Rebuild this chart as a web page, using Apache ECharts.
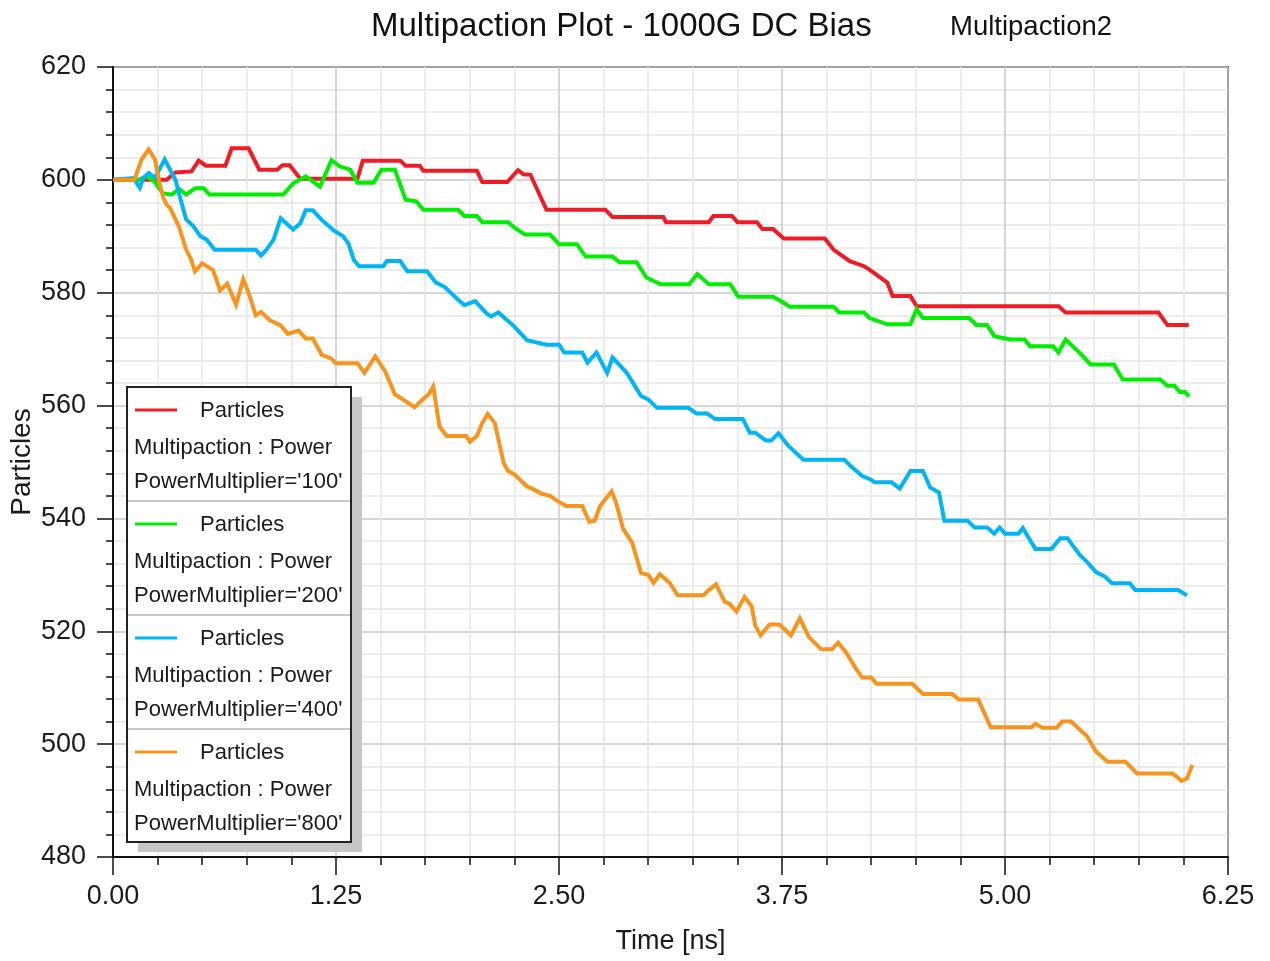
<!DOCTYPE html>
<html>
<head>
<meta charset="utf-8">
<title>Multipaction Plot - 1000G DC Bias</title>
<script src="https://cdn.jsdelivr.net/npm/echarts@6/dist/echarts.min.js"></script>
<style>
  html, body { margin: 0; padding: 0; background: #fff; }
  #chart { width: 1270px; height: 961px; }
</style>
</head>
<body>
<div id="chart"></div>
<script>
// Particle counts vs time [ns] for each power multiplier, as [time, particles]
const p100 = [[0,600],[0.30,600],[0.35,601.3],[0.44,601.5],[0.48,603.4],[0.52,602.5],[0.63,602.5],[0.665,605.6],[0.76,605.6],[0.82,601.8],[0.92,601.8],[0.95,602.6],[0.99,602.6],[1.05,600.2],[1.37,600.2],[1.40,603.4],[1.61,603.4],[1.64,602.5],[1.72,602.5],[1.74,601.6],[2.04,601.6],[2.07,599.6],[2.21,599.6],[2.27,601.7],[2.30,601.0],[2.34,600.9],[2.43,594.7],[2.76,594.7],[2.80,593.4],[3.085,593.4],[3.10,592.5],[3.34,592.5],[3.365,593.6],[3.47,593.6],[3.50,592.5],[3.61,592.5],[3.64,591.3],[3.70,591.3],[3.76,589.6],[3.99,589.6],[4.04,587.6],[4.13,585.6],[4.21,584.7],[4.24,584.1],[4.34,581.8],[4.37,579.4],[4.47,579.4],[4.505,577.6],[5.30,577.6],[5.34,576.5],[5.86,576.5],[5.91,574.3],[6.03,574.3]];
const p200 = [[0,600],[0.14,600],[0.19,600.6],[0.23,599.8],[0.28,597.6],[0.33,597.4],[0.37,598.4],[0.41,597.4],[0.46,598.5],[0.51,598.5],[0.54,597.4],[0.955,597.4],[1.01,599.4],[1.08,600.6],[1.16,598.8],[1.225,603.5],[1.27,602.4],[1.33,601.8],[1.37,599.5],[1.46,599.5],[1.505,601.8],[1.58,601.8],[1.64,596.5],[1.70,596.2],[1.74,594.7],[1.935,594.7],[1.97,593.6],[2.04,593.6],[2.07,592.5],[2.215,592.5],[2.26,591.3],[2.31,590.3],[2.45,590.3],[2.50,588.6],[2.60,588.6],[2.65,586.4],[2.80,586.4],[2.84,585.4],[2.935,585.4],[2.99,582.7],[3.07,581.5],[3.23,581.5],[3.275,583.3],[3.34,581.5],[3.46,581.5],[3.505,579.3],[3.70,579.3],[3.75,578.4],[3.795,577.5],[4.04,577.5],[4.07,576.5],[4.21,576.5],[4.24,575.5],[4.34,574.4],[4.47,574.4],[4.505,577.1],[4.54,575.5],[4.80,575.5],[4.84,574.3],[4.90,574.3],[4.94,572.3],[5.03,571.7],[5.11,571.7],[5.14,570.5],[5.27,570.5],[5.30,569.4],[5.34,571.7],[5.42,569.3],[5.48,567.3],[5.61,567.3],[5.66,564.6],[5.87,564.6],[5.91,563.5],[5.95,563.5],[5.98,562.4],[6.01,562.4],[6.03,561.6]];
const p400 = [[0,600],[0.115,600.3],[0.15,598.6],[0.17,600.4],[0.20,601.2],[0.235,600.4],[0.29,603.6],[0.35,600],[0.375,597],[0.41,593],[0.45,591.8],[0.49,590],[0.525,589.4],[0.57,587.6],[0.80,587.6],[0.83,586.6],[0.86,587.6],[0.90,589.4],[0.94,593.2],[1.01,591.2],[1.05,592.3],[1.08,594.6],[1.12,594.6],[1.17,592.9],[1.235,591.1],[1.29,590],[1.32,588.7],[1.35,585.8],[1.38,584.7],[1.515,584.7],[1.535,585.6],[1.61,585.6],[1.65,583.8],[1.76,583.8],[1.81,581.8],[1.86,581],[1.93,578.9],[1.97,577.8],[2.03,578.5],[2.095,576.3],[2.12,575.8],[2.16,576.5],[2.25,574],[2.32,571.6],[2.43,570.8],[2.50,570.8],[2.53,569.4],[2.63,569.4],[2.66,567.6],[2.71,569.4],[2.77,565.8],[2.80,568.5],[2.88,565.8],[2.96,561.7],[3.00,561.1],[3.05,559.6],[3.225,559.6],[3.27,558.6],[3.33,558.6],[3.375,557.6],[3.53,557.6],[3.57,555.2],[3.60,555.2],[3.66,553.8],[3.69,553.8],[3.73,555.1],[3.785,552.9],[3.87,550.4],[4.10,550.4],[4.13,549.4],[4.20,547.5],[4.24,547],[4.27,546.4],[4.365,546.4],[4.41,545.3],[4.47,548.4],[4.54,548.4],[4.58,545.5],[4.63,544.6],[4.66,539.6],[4.79,539.6],[4.83,538.4],[4.90,538.4],[4.94,537.3],[4.97,538.4],[5.00,537.3],[5.075,537.3],[5.10,538.3],[5.17,534.6],[5.26,534.6],[5.31,536.5],[5.35,536.5],[5.42,533.5],[5.46,532.3],[5.51,530.5],[5.56,529.7],[5.60,528.5],[5.70,528.5],[5.73,527.3],[5.97,527.3],[6.02,526.4]];
const p800 = [[0,600],[0.12,600],[0.16,603.6],[0.20,605.4],[0.235,603.6],[0.26,599.5],[0.28,597],[0.30,595.6],[0.32,595],[0.37,591.7],[0.41,587.6],[0.435,586.1],[0.46,583.8],[0.50,585.2],[0.56,584],[0.58,582.3],[0.60,580.4],[0.64,581.6],[0.69,577.9],[0.73,582.4],[0.76,580],[0.80,576],[0.83,576.6],[0.88,575.1],[0.94,574.2],[0.98,572.7],[1.04,573.3],[1.08,571.9],[1.12,571.9],[1.17,569],[1.22,568.4],[1.25,567.5],[1.37,567.5],[1.41,565.8],[1.47,568.7],[1.525,566.1],[1.58,562],[1.64,560.8],[1.69,559.7],[1.74,561.2],[1.77,562],[1.795,563.4],[1.83,556.3],[1.87,554.6],[1.98,554.6],[2.00,553.6],[2.04,554.6],[2.07,556.9],[2.10,558.5],[2.14,556.9],[2.19,549.8],[2.215,548.4],[2.25,547.8],[2.32,545.7],[2.36,545.1],[2.40,544.4],[2.45,544],[2.49,543.1],[2.54,542.2],[2.63,542.2],[2.67,539.4],[2.70,539.6],[2.73,542.2],[2.795,544.8],[2.82,542.8],[2.86,538.1],[2.91,535.7],[2.96,530.3],[3.00,530],[3.03,528.6],[3.065,530.1],[3.12,528.6],[3.165,526.4],[3.31,526.4],[3.34,527.3],[3.38,528.3],[3.43,525.2],[3.455,524.9],[3.495,523.5],[3.54,526.1],[3.58,524.4],[3.60,521],[3.63,519.3],[3.68,521.2],[3.735,521.2],[3.80,519.3],[3.85,522.3],[3.90,519],[3.97,516.8],[4.03,516.8],[4.065,518],[4.11,516.2],[4.16,513.6],[4.20,511.8],[4.25,511.8],[4.28,510.7],[4.48,510.7],[4.54,508.9],[4.705,508.9],[4.74,507.9],[4.85,507.9],[4.88,505.8],[4.92,503],[5.15,503],[5.17,503.6],[5.21,502.9],[5.29,502.9],[5.32,504],[5.37,504],[5.46,501.4],[5.51,498.7],[5.575,496.9],[5.675,496.9],[5.74,494.8],[5.94,494.8],[5.99,493.5],[6.02,493.9],[6.05,496.3]];

const multipliers = ['100', '200', '400', '800'];
const seriesData = [p100, p200, p400, p800];
const seriesColors = ['#ee1c25', '#00ee00', '#00b4f5', '#f7941d'];
const quantityName = 'Particles';
const sourceName = 'Multipaction : Power';

const chartTitle = 'Multipaction Plot - 1000G DC Bias';
const chartSubtitle = 'Multipaction2';
const xName = 'Time [ns]';
const yName = 'Particles';

const FONT = "'Liberation Sans', Arial, sans-serif";

// Legend box, drawn as a framed panel inside the plot area
function legendGraphic() {
  const x0 = 127, y0 = 387, w = 224, rowH = 114;
  const h = rowH * multipliers.length - 1;
  const els = [
    { type: 'rect', shape: { x: x0 + 11, y: y0 + 10, width: w, height: h }, style: { fill: '#c6c6c6' }, z: 100 },
    { type: 'rect', shape: { x: x0, y: y0, width: w, height: h }, style: { fill: '#fff', stroke: '#222', lineWidth: 2 }, z: 101 }
  ];
  multipliers.forEach((m, i) => {
    const top = y0 + i * rowH;
    if (i > 0) {
      els.push({ type: 'line', shape: { x1: x0 + 1, y1: top, x2: x0 + w - 1, y2: top }, style: { stroke: '#c8c8c8', lineWidth: 2 }, z: 102 });
    }
    els.push({ type: 'line', shape: { x1: 135, y1: top + 23, x2: 177, y2: top + 23 }, style: { stroke: seriesColors[i], lineWidth: 3 }, z: 102 });
    const txt = (t, x, y) => ({ type: 'text', x: x, y: y, style: { text: t, fill: '#1a1a1a', font: '22px ' + FONT, textVerticalAlign: 'middle', verticalAlign: 'middle' }, z: 102 });
    els.push(txt(quantityName, 200, top + 24));
    els.push(txt(sourceName, 134, top + 61));
    els.push(txt("PowerMultiplier='" + m + "'", 134, top + 95));
  });
  return els;
}

const chart = echarts.init(document.getElementById('chart'), null, { renderer: 'canvas' });
chart.setOption({
  backgroundColor: '#fff',
  animation: false,
  title: [
    { text: chartTitle, left: 366, top: 5, textStyle: { fontFamily: FONT, fontSize: 33, fontWeight: 'normal', color: '#111' } },
    { text: chartSubtitle, left: 945, top: 8, textStyle: { fontFamily: FONT, fontSize: 27.5, fontWeight: 'normal', color: '#111' } }
  ],
  grid: {
    left: 113, right: 42, top: 67, bottom: 104,
    containLabel: false, outerBoundsMode: 'none',
    show: true, borderColor: '#333', borderWidth: 2, backgroundColor: '#fff'
  },
  xAxis: {
    type: 'value', min: 0, max: 6.25, interval: 1.25,
    name: xName, nameLocation: 'middle', nameGap: 71, nameMoveOverlap: false,
    nameTextStyle: { fontFamily: FONT, fontSize: 27, color: '#1a1a1a' },
    axisLine: { show: true, onZero: false, lineStyle: { color: '#111', width: 2 } },
    axisTick: { show: true, length: 18, lineStyle: { color: '#111', width: 1.5 } },
    minorTick: { show: true, splitNumber: 5, length: 8, lineStyle: { color: '#111', width: 1.5 } },
    axisLabel: { fontFamily: FONT, fontSize: 27, color: '#1a1a1a', margin: 26, formatter: v => v.toFixed(2) },
    splitLine: { show: true, lineStyle: { color: '#c9c9c9', width: 1.5 } },
    minorSplitLine: { show: true, lineStyle: { color: '#e6e6e6', width: 1.5 } }
  },
  yAxis: {
    type: 'value', min: 480, max: 620, interval: 20,
    name: yName, nameLocation: 'middle', nameGap: 77, nameRotate: 90, nameMoveOverlap: false,
    nameTextStyle: { fontFamily: FONT, fontSize: 28, color: '#1a1a1a' },
    axisLine: { show: true, onZero: false, lineStyle: { color: '#111', width: 2 } },
    axisTick: { show: true, length: 16, lineStyle: { color: '#111', width: 1.5 } },
    minorTick: { show: true, splitNumber: 5, length: 7, lineStyle: { color: '#111', width: 1.5 } },
    axisLabel: { fontFamily: FONT, fontSize: 27, color: '#1a1a1a', margin: 27 },
    splitLine: { show: true, lineStyle: { color: '#c9c9c9', width: 1.5 } },
    minorSplitLine: { show: true, lineStyle: { color: '#e6e6e6', width: 1.5 } }
  },
  series: multipliers.map((m, i) => ({
    name: "PowerMultiplier='" + m + "'",
    type: 'line',
    data: seriesData[i],
    showSymbol: false,
    symbol: 'none',
    lineStyle: { color: seriesColors[i], width: 4, join: 'miter' },
    itemStyle: { color: seriesColors[i] },
    z: 2 + i
  })),
  graphic: legendGraphic()
});
</script>
</body>
</html>
